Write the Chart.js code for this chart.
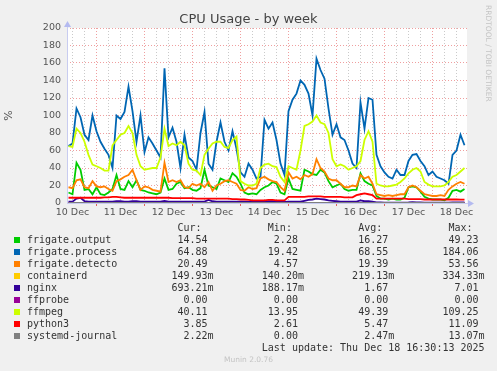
<!DOCTYPE html>
<html>
<head>
<meta charset="utf-8">
<script src="https://cdn.jsdelivr.net/npm/chart.js@4.4.1/dist/chart.umd.min.js"></script>
<style>
  html, body { margin: 0; padding: 0; background: #f0f0f0; }
  #wrap { position: relative; width: 497px; height: 371px; overflow: hidden; }
  #chart { position: absolute; left: 0; top: 0; }
  .title { position: absolute; left: 0; top: 11px; width: 497px; text-align: center; font: 13px 'DejaVu Sans', sans-serif; color: #444; }
  .brand { position: absolute; left: 484px; top: 5px; writing-mode: vertical-rl; font: 7.5px 'DejaVu Sans', sans-serif; color: #c4c4c4; }
  #legend { position: absolute; left: 27px; top: 222px; margin: 0; font: 10px 'DejaVu Sans Mono', monospace; line-height: 12px; color: #333; }
  .swatch { position: absolute; left: 14px; width: 6px; height: 6px; }
  .munin { position: absolute; left: 0; top: 355px; width: 497px; text-align: center; font: 7.5px 'DejaVu Sans', sans-serif; color: #c4c4c4; }
</style>
</head>
<body>
<div id="wrap">
  <canvas id="chart" width="497" height="371"></canvas>
  <div class="title">CPU Usage - by week</div>
  <div class="brand">RRDTOOL / TOBI OETIKER</div>
  <pre id="legend"></pre>
  <div class="munin">Munin 2.0.76</div>
</div>
<script>
// hours counted from 10 Dec 00:00, one sample every 2 hours
const sampleHours = Array.from({ length: 100 }, (_, i) => 10 + 2 * i);
const flatHours = [10, 58, 106, 154, 208];

const dayNoonHours = [12, 36, 60, 84, 108, 132, 156, 180, 204];
const dayLabels = ['10 Dec', '11 Dec', '12 Dec', '13 Dec', '14 Dec', '15 Dec', '16 Dec', '17 Dec', '18 Dec'];

const frigateOutput = [
    12, 10, 46, 38, 15, 16, 10, 18, 10, 9,
    12, 16, 32, 16, 15, 25, 18, 26, 15, 14,
    12, 11, 10, 12, 28, 15, 16, 22, 24, 17,
    18, 15, 14, 17, 38, 20, 18, 16, 28, 26,
    24, 34, 30, 22, 12, 10, 11, 10, 15, 18,
    20, 24, 22, 12, 10, 28, 16, 15, 14, 38,
    36, 33, 32, 38, 35, 25, 18, 20, 22, 16,
    14, 15, 15, 34, 25, 22, 20, 8, 5, 5,
    4, 5, 4, 4, 6, 18, 19, 18, 13, 7,
    5, 4, 4, 4, 3, 6, 14, 15, 13, 16
];
const frigateProcess = [
    65, 68, 108, 98, 78, 72, 100, 82, 70, 62,
    55, 40, 100, 96, 104, 133, 105, 70, 100, 58,
    75, 68, 60, 52, 154, 75, 86, 70, 40, 78,
    52, 48, 38, 80, 104, 45, 38, 70, 92, 70,
    60, 82, 62, 35, 30, 45, 38, 28, 30, 95,
    85, 92, 72, 45, 32, 105, 118, 125, 140, 135,
    125, 100, 165, 152, 142, 108, 78, 90, 75, 72,
    60, 45, 40, 115, 85, 120, 118, 55, 42, 35,
    30, 28, 38, 32, 32, 48, 55, 56, 48, 42,
    32, 36, 30, 28, 26, 22, 55, 60, 78, 66
];
const frigateDetecto = [
    18, 17, 26, 27, 18, 17, 25, 19, 18, 19,
    16, 14, 25, 27, 30, 32, 38, 26, 15, 19,
    18, 15, 14, 13, 46, 24, 26, 24, 26, 18,
    17, 22, 20, 22, 18, 24, 14, 20, 22, 25,
    26, 24, 22, 15, 14, 18, 16, 17, 28, 30,
    27, 25, 24, 18, 14, 35, 28, 30, 27, 32,
    30, 33, 50, 40, 36, 28, 26, 26, 22, 18,
    18, 20, 19, 32, 28, 30, 22, 10, 9, 8,
    9, 8, 9, 10, 10, 18, 20, 18, 14, 10,
    9, 8, 8, 9, 8, 15, 19, 22, 24, 22
];
const containerd = [0.2, 0.25, 0.2, 0.2, 0.15];
const nginx = [
    1.5, 1.5, 5, 6, 2, 1.5, 1.5, 1.5, 1.5, 1.5,
    1.5, 1.5, 2, 2, 1.5, 1.5, 2, 2, 1.5, 1.5,
    1.5, 1.5, 1.5, 1.5, 2.5, 1.5, 1.5, 1.5, 1.5, 1.5,
    1.5, 1.5, 1.5, 1.5, 1.5, 3.5, 2, 1.5, 1.5, 1.5,
    1.5, 1.5, 1.5, 1.5, 1.5, 1.2, 1.2, 1.2, 1.2, 1.5,
    2, 2, 1.5, 1.5, 1.2, 1.5, 1.5, 1.5, 1.5, 2.5,
    3.5, 4, 5, 4.5, 4, 3, 2.5, 2, 1.5, 1.5,
    1.5, 1.5, 1.5, 3, 2, 2, 1.5, 0.8, 0.6, 0.5,
    0.5, 0.5, 0.5, 0.5, 0.5, 0.6, 1, 0.8, 0.6, 0.5,
    0.5, 0.5, 0.5, 0.5, 0.5, 0.5, 0.6, 0.7, 0.7, 0.7
];
const ffprobe = [0, 0, 0, 0, 0];
const ffmpeg = [
    65, 64, 85, 80, 70, 55, 44, 42, 40, 37,
    37, 66, 72, 78, 80, 88, 80, 55, 42, 38,
    39, 40, 40, 52, 85, 65, 68, 66, 70, 66,
    45, 38, 37, 32, 55, 62, 68, 70, 70, 64,
    63, 72, 76, 25, 22, 20, 20, 22, 40, 44,
    45, 42, 41, 30, 24, 42, 40, 38, 60, 88,
    90, 93, 100, 92, 90, 80, 50, 42, 44, 42,
    38, 40, 42, 48, 72, 82, 70, 22, 20, 19,
    19, 20, 21, 24, 28, 34, 38, 40, 36, 24,
    21, 19, 19, 19, 20, 24, 30, 32, 36, 40
];
const python3 = [
    6, 6, 6, 6, 6, 6, 6, 6, 6, 6.5,
    6.5, 7, 7, 6.5, 6, 6, 6, 6, 6, 6,
    6, 6, 6, 6, 6, 6, 5.5, 5.5, 5.5, 5.5,
    5.5, 5.5, 5, 5, 5, 5, 5, 5, 5, 5,
    5, 4.5, 4.5, 4, 4, 3.5, 3, 3, 3, 3,
    3.5, 3.5, 3, 3, 3, 7, 7, 7, 7, 7,
    7.5, 7.5, 7.5, 7.5, 7, 7, 7, 7, 7, 6.5,
    6.5, 6.5, 9, 10, 11, 10, 9, 5, 5, 5,
    5, 5, 5, 5, 5, 4.5, 4.5, 4.5, 4.5, 4,
    4, 4, 4, 4, 4, 4, 4, 4, 3.8, 3.8
];
const systemdJournal = [0, 0, 0, 0, 0];

const seriesNames = ['frigate.output', 'frigate.process', 'frigate.detecto', 'containerd', 'nginx',
    'ffprobe', 'ffmpeg', 'python3', 'systemd-journal'];
const seriesColors = ['#00cc00', '#0066b3', '#ff8000', '#ffcc00', '#330099',
    '#990099', '#ccff00', '#ff0000', '#808080'];
const curVals = ['14.54', '64.88', '20.49', '149.93m', '693.21m', '0.00', '40.11', '3.85', '2.22m'];
const minVals = ['2.28', '19.42', '4.57', '140.20m', '188.17m', '0.00', '13.95', '2.61', '0.00'];
const avgVals = ['16.27', '68.55', '19.39', '219.13m', '1.67', '0.00', '49.39', '5.47', '2.47m'];
const maxVals = ['49.23', '184.06', '53.56', '334.33m', '7.01', '0.00', '109.25', '11.09', '13.07m'];
const lastUpdate = 'Last update: Thu Dec 18 16:30:13 2025';

const majorGrid = 'rgba(225, 80, 80, 0.55)';
const minorGrid = 'rgba(150, 150, 150, 0.5)';

function toPoints(xs, ys) {
    return ys.map((y, i) => ({ x: xs[i], y: y }));
}

const seriesData = [
    toPoints(sampleHours, frigateOutput),
    toPoints(sampleHours, frigateProcess),
    toPoints(sampleHours, frigateDetecto),
    toPoints(flatHours, containerd),
    toPoints(sampleHours, nginx),
    toPoints(flatHours, ffprobe),
    toPoints(sampleHours, ffmpeg),
    toPoints(sampleHours, python3),
    toPoints(flatHours, systemdJournal)
];

// white plot area + the little munin axis arrows
const plotFrame = {
    id: 'plotFrame',
    beforeDraw(chart) {
        const { ctx, chartArea: a } = chart;
        ctx.save();
        ctx.fillStyle = '#ffffff';
        ctx.fillRect(a.left, a.top, a.right - a.left, a.bottom - a.top);
        ctx.restore();
    },
    beforeDatasetsDraw(chart) {
        const { ctx, chartArea: a } = chart;
        ctx.save();
        ctx.strokeStyle = '#c8ccf0';
        ctx.lineWidth = 1;
        ctx.beginPath();
        ctx.moveTo(a.left + 0.5, a.bottom);
        ctx.lineTo(a.left + 0.5, a.top - 3);
        ctx.moveTo(a.left, a.bottom + 0.5);
        ctx.lineTo(a.right + 3, a.bottom + 0.5);
        ctx.stroke();
        ctx.fillStyle = '#b4baf0';
        ctx.beginPath();
        ctx.moveTo(a.left - 3, a.top - 1);
        ctx.lineTo(a.left + 4, a.top - 1);
        ctx.lineTo(a.left + 0.5, a.top - 7);
        ctx.closePath();
        ctx.fill();
        ctx.beginPath();
        ctx.moveTo(a.right + 1, a.bottom - 3);
        ctx.lineTo(a.right + 1, a.bottom + 4);
        ctx.lineTo(a.right + 7, a.bottom + 0.5);
        ctx.closePath();
        ctx.fill();
        ctx.restore();
    }
};

const ctx = document.getElementById('chart');
const myChart = new Chart(ctx, {
    type: 'line',
    data: {
        datasets: seriesNames.map((name, i) => ({
            label: name,
            data: seriesData[i],
            borderColor: seriesColors[i],
            backgroundColor: seriesColors[i],
            borderWidth: 1.8,
            pointRadius: 0,
            tension: 0,
            fill: false,
            order: seriesNames.length - i
        }))
    },
    options: {
        responsive: false,
        animation: false,
        devicePixelRatio: 1,
        layout: { padding: { top: 28, right: 30, bottom: 149, left: 0 } },
        plugins: {
            legend: { display: false },
            tooltip: { enabled: false },
            title: { display: false }
        },
        scales: {
            x: {
                type: 'linear',
                min: 9.25,
                max: 209.25,
                afterBuildTicks(scale) {
                    const ticks = [];
                    for (let h = 12; h <= 204; h += 6) ticks.push({ value: h });
                    scale.ticks = ticks;
                },
                afterFit(scale) { scale.height = 19; },
                ticks: {
                    autoSkip: false,
                    maxRotation: 0,
                    padding: 1,
                    color: '#555',
                    font: { family: 'DejaVu Sans', size: 9.5 },
                    callback(v) {
                        const i = dayNoonHours.indexOf(v);
                        return i >= 0 ? dayLabels[i] : '';
                    }
                },
                grid: {
                    color: (c) => (c.tick && c.tick.value % 24 === 0 ? majorGrid : minorGrid),
                    tickColor: (c) => (c.tick && c.tick.value % 24 === 0 ? 'rgba(225, 60, 60, 0.8)' : 'rgba(0,0,0,0)'),
                    tickLength: 3,
                    lineWidth: 1
                },
                border: { display: false, dash: [1, 2] }
            },
            y: {
                min: 0,
                max: 200,
                afterFit(scale) { scale.width = 67; },
                ticks: {
                    stepSize: 10,
                    padding: 6,
                    color: '#555',
                    font: { family: 'DejaVu Sans', size: 9.5 },
                    callback: (v) => (v % 20 === 0 ? v : '')
                },
                grid: {
                    color: (c) => (c.tick && c.tick.value % 20 === 0 ? majorGrid : minorGrid),
                    drawTicks: false,
                    lineWidth: 1
                },
                border: { display: false, dash: [1, 2] },
                title: {
                    display: true,
                    text: '%',
                    color: '#555',
                    font: { family: 'DejaVu Sans', size: 11 },
                    padding: { top: 3, bottom: 0 }
                }
            }
        }
    },
    plugins: [plotFrame]
});

// munin style text legend, fixed width columns
function field(s) {
    const unit = s.endsWith('m') ? 'm' : ' ';
    const num = unit === 'm' ? s.slice(0, -1) : s;
    return num.padStart(6) + unit;
}
const gap = ' '.repeat(8);
const lines = [' '.repeat(25) + 'Cur:' + ' '.repeat(11) + 'Min:' + ' '.repeat(11) + 'Avg:' + ' '.repeat(11) + 'Max:'];
seriesNames.forEach((name, i) => {
    lines.push(name.padEnd(24) + field(curVals[i]) + gap + field(minVals[i]) + gap + field(avgVals[i]) + gap + field(maxVals[i]));
});
lines.push(' '.repeat(39) + lastUpdate);
const legend = document.getElementById('legend');
legend.textContent = lines.join('\n');

const wrap = document.getElementById('wrap');
seriesColors.forEach((color, i) => {
    const sw = document.createElement('div');
    sw.className = 'swatch';
    sw.style.background = color;
    sw.style.top = (222 + 12 * (i + 1) + 3) + 'px';
    wrap.appendChild(sw);
});
</script>
</body>
</html>
